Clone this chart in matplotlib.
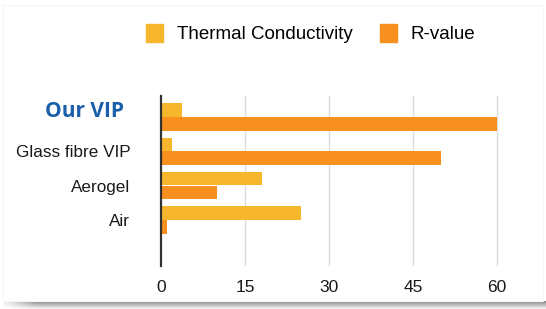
import numpy as np
import matplotlib
matplotlib.use('Agg')
import matplotlib.pyplot as plt
from matplotlib.patches import Patch, Rectangle

plt.rcParams['font.family'] = ['Liberation Sans', 'DejaVu Sans']

materials = ['Our VIP', 'Glass fibre VIP', 'Aerogel', 'Air']
thermal = [3.7, 2, 18, 25]
rvalue = [60, 50, 10, 1]
xticks = [0, 15, 30, 45, 60]

c_thermal = '#F6B72D'
c_rvalue = '#F7901E'

W, H = 546, 309
fig = plt.figure(figsize=(W / 100, H / 100), dpi=100)
fig.patch.set_facecolor('white')

# plot area in pixel coords of the reference
x0, x1 = 161, 161 + 62 * 5.6
ytop, ybot = 96, 266
ax = fig.add_axes([x0 / W, 1 - ybot / H, (x1 - x0) / W, (ybot - ytop) / H])

y = np.arange(len(materials))
h = 0.39
ax.barh(y - 0.2, thermal, height=h, color=c_thermal, zorder=3)
ax.barh(y + 0.2, rvalue, height=h, color=c_rvalue, zorder=3)

ax.set_xlim(0, 62)
ax.set_ylim(4.34, -0.61)
ax.set_xticks(xticks)
ax.set_xticklabels([str(t) for t in xticks], fontsize=12.5, color='#1a1a1a')
ax.tick_params(axis='x', length=0, pad=10)
ax.set_yticks(y)
ax.set_yticklabels([''] + materials[1:], fontsize=12.3, color='#1a1a1a')
ax.tick_params(axis='y', length=0, pad=22)

for t in xticks[1:]:
    ax.axvline(t, color='#dcdcdc', lw=1, zorder=1)
for s in ['top', 'right', 'bottom']:
    ax.spines[s].set_visible(False)
ax.spines['left'].set_color('#333333')
ax.spines['left'].set_linewidth(1.6)
ax.spines['left'].set_zorder(4)

# highlighted label
fig.text(124 / W, 1 - 111 / H, 'Our VIP', ha='right', va='center',
         fontsize=15, fontweight='bold', color='#1B5FAA',
         family=['Open Sans', 'DejaVu Sans'])

handles = [Patch(color=c_thermal, label='Thermal Conductivity'),
           Patch(color=c_rvalue, label='R-value')]
fig.legend(handles=handles, loc='upper left', bbox_to_anchor=(146 / W, 1 - 24 / H),
           ncol=2, frameon=False, fontsize=13.5, borderpad=0, borderaxespad=0,
           handlelength=0.9, handleheight=1.1, handletextpad=0.75,
           columnspacing=1.45)

# faint frame and bottom shadow
fig.patches.append(Rectangle((3 / W, 1 - 301 / H), 540 / W, 296 / H,
                             transform=fig.transFigure, fill=False,
                             edgecolor='#f6f6f6', lw=0.8))
sh = fig.add_axes([4 / W, 0, 1 - 4 / W, 8 / H])
grad = np.linspace(0.55, 0.95, 8)[:, None] * np.ones((1, 60))
grad[:, :4] = grad[:, :4] + (1 - grad[:, :4]) * np.linspace(0.8, 0.0, 4)[None, :]
sh.imshow(grad, cmap='gray', vmin=0, vmax=1, aspect='auto', interpolation='bilinear')
sh.axis('off')

fig.savefig('out.png', dpi=100)
